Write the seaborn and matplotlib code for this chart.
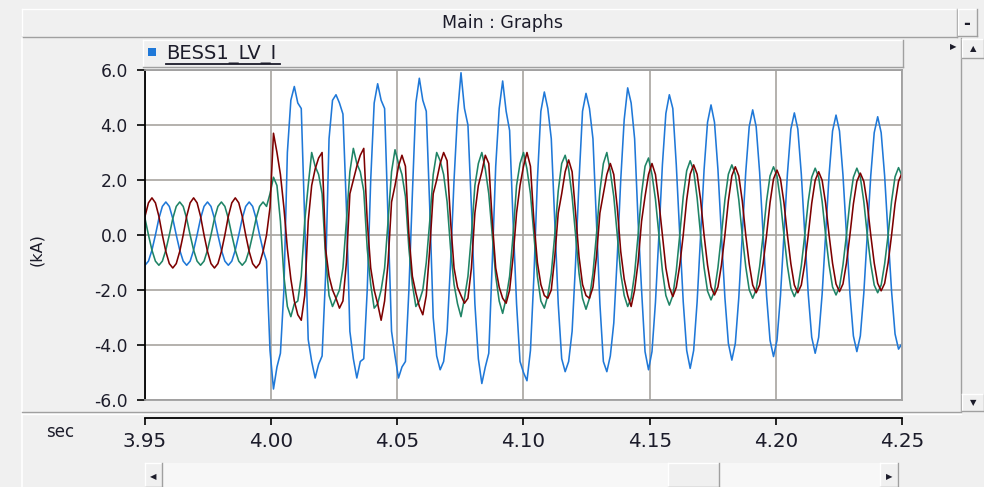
import numpy as np
import pandas as pd
import seaborn as sns
import matplotlib.pyplot as plt
from matplotlib.patches import Rectangle

# ---- data: BESS1_LV_I, three phase currents (kA)
# one sample every 30 electrical degrees, one row per cycle, 3.95 s .. 4.25 s
t_start, t_end = 3.95, 4.25

blue = [
    -1.10, -0.95, -0.55, 0.00, 0.60, 1.04, 1.20, 1.04, 0.60, 0.00, -0.55, -0.95,
    -1.10, -0.95, -0.55, 0.00, 0.60, 1.04, 1.20, 1.04, 0.60, 0.00, -0.55, -0.95,
    -1.10, -0.95, -0.55, 0.00, 0.60, 1.04, 1.20, 1.04, 0.60, 0.00, -0.55, -0.95,
    -4.20, -5.60, -4.80, -4.30, -2.00, 3.00, 4.90, 5.40, 4.80, 4.60, 0.50, -3.80,
    -4.60, -5.20, -4.70, -4.40, -1.50, 3.50, 4.90, 5.10, 4.80, 4.40, 1.00, -3.50,
    -4.50, -5.20, -4.60, -4.50, -2.00, 2.00, 4.80, 5.50, 4.90, 4.60, 0.50, -3.50,
    -4.40, -5.20, -4.80, -4.60, -2.00, 1.50, 4.80, 5.70, 4.90, 4.50, 1.00, -3.00,
    -4.40, -4.90, -4.60, -3.50, -1.00, 2.00, 4.40, 5.90, 4.60, 4.00, 1.00, -2.50,
    -4.50, -5.40, -4.80, -4.30, -1.00, 2.50, 4.60, 5.60, 4.50, 3.80, 0.50, -2.50,
    -4.60, -5.00, -5.30, -4.20, -1.50, 2.00, 4.50, 5.20, 4.60, 3.50, 0.50, -2.50,
    -4.50, -4.97, -4.60, -3.50, -1.00, 2.00, 4.50, 5.15, 4.60, 3.50, 0.50, -2.50,
    -4.60, -4.97, -4.40, -3.20, -0.80, 2.00, 4.20, 5.35, 4.80, 3.50, 0.50, -2.00,
    -4.24, -4.90, -4.24, -2.45, 0.00, 2.55, 4.42, 5.10, 4.60, 2.55, 0.00, -2.43,
    -4.20, -4.85, -4.20, -2.43, 0.00, 2.37, 4.10, 4.73, 4.10, 2.37, 0.00, -2.28,
    -3.94, -4.55, -3.94, -2.28, 0.00, 2.28, 3.94, 4.55, 3.94, 2.28, 0.00, -2.21,
    -3.83, -4.42, -3.83, -2.21, 0.00, 2.22, 3.85, 4.44, 3.85, 2.22, 0.00, -2.15,
    -3.72, -4.30, -3.72, -2.15, 0.00, 2.18, 3.78, 4.36, 3.78, 2.18, 0.00, -2.12,
    -3.67, -4.24, -3.67, -2.12, 0.00, 2.15, 3.72, 4.30, 3.72, 2.15, 0.00, -2.05,
    -3.60, -4.15, -3.95,
]

green = [
    0.60, 0.00, -0.55, -0.95, -1.10, -0.95, -0.55, 0.00, 0.60, 1.04, 1.20, 1.04,
    0.60, 0.00, -0.55, -0.95, -1.10, -0.95, -0.55, 0.00, 0.60, 1.04, 1.20, 1.04,
    0.60, 0.00, -0.55, -0.95, -1.10, -0.95, -0.55, 0.00, 0.60, 1.04, 1.20, 1.04,
    1.50, 2.10, 1.80, 0.50, -1.50, -2.60, -2.97, -2.50, -2.40, -1.50, 0.50, 1.80,
    3.00, 2.50, 2.20, 1.50, -0.80, -2.20, -2.60, -2.30, -2.00, -1.20, 0.50, 2.30,
    3.15, 2.60, 2.30, 1.60, -0.50, -1.80, -2.66, -2.50, -2.00, -1.20, 0.50, 2.30,
    3.10, 2.60, 2.20, 1.40, -0.50, -1.80, -2.60, -2.40, -2.00, -1.00, 0.50, 2.20,
    3.00, 2.70, 2.20, 1.20, -0.50, -1.80, -2.50, -2.97, -2.30, -1.50, 0.00, 1.80,
    2.60, 3.00, 2.40, 1.50, 0.00, -1.50, -2.40, -2.85, -2.30, -1.50, 0.00, 1.80,
    2.60, 3.00, 2.40, 1.50, 0.00, -1.50, -2.40, -2.66, -2.20, -1.40, 0.00, 1.60,
    2.60, 2.90, 2.40, 1.40, 0.00, -1.40, -2.30, -2.70, -2.30, -1.40, 0.00, 1.60,
    2.60, 3.00, 2.30, 1.40, 0.00, -1.40, -2.20, -2.60, -2.30, -1.40, 0.00, 1.50,
    2.50, 2.80, 2.20, 1.30, 0.00, -1.30, -2.20, -2.55, -2.20, -1.30, 0.00, 1.40,
    2.34, 2.70, 2.34, 1.35, 0.00, -1.18, -2.04, -2.36, -2.04, -1.18, 0.00, 1.28,
    2.21, 2.55, 2.21, 1.28, 0.00, -1.15, -1.99, -2.30, -1.99, -1.15, 0.00, 1.24,
    2.15, 2.48, 2.15, 1.24, 0.00, -1.12, -1.94, -2.24, -1.94, -1.12, 0.00, 1.22,
    2.10, 2.43, 2.10, 1.22, 0.00, -1.09, -1.89, -2.18, -1.89, -1.09, 0.00, 1.22,
    2.10, 2.43, 2.10, 1.22, 0.00, -1.05, -1.82, -2.10, -1.82, -1.05, 0.00, 1.23,
    2.12, 2.45, 2.15,
]

red = [
    0.68, 1.17, 1.35, 1.17, 0.68, 0.00, -0.60, -1.04, -1.20, -1.04, -0.60, 0.00,
    0.68, 1.17, 1.35, 1.17, 0.68, 0.00, -0.60, -1.04, -1.20, -1.04, -0.60, 0.00,
    0.68, 1.17, 1.35, 1.17, 0.68, 0.00, -0.60, -1.04, -1.20, -1.04, -0.60, 0.00,
    1.00, 3.70, 3.00, 2.20, 1.00, -0.50, -1.60, -2.40, -2.90, -3.10, -2.20, 0.50,
    1.80, 2.40, 2.80, 3.00, -0.50, -1.50, -2.00, -2.30, -2.66, -2.40, -1.00, 1.50,
    2.00, 2.50, 2.90, 3.15, 0.50, -1.20, -2.00, -2.50, -3.10, -2.40, -1.00, 1.20,
    1.80, 2.50, 2.90, 2.50, 0.00, -1.50, -2.10, -2.60, -2.90, -2.20, -0.50, 1.50,
    2.00, 2.60, 3.00, 2.70, 0.50, -1.20, -1.90, -2.20, -2.48, -2.30, -1.20, 0.80,
    1.80, 2.30, 2.90, 2.60, 0.50, -1.20, -1.90, -2.30, -2.48, -2.00, -0.80, 0.80,
    1.80, 2.50, 3.00, 2.50, 0.50, -1.00, -1.80, -2.20, -2.30, -2.00, -0.80, 0.80,
    1.50, 2.30, 2.73, 2.30, 0.80, -0.80, -1.80, -2.20, -2.30, -1.90, -0.80, 0.80,
    1.50, 2.20, 2.60, 2.20, 1.00, -0.60, -1.60, -2.20, -2.60, -2.00, -1.00, 0.50,
    1.40, 2.20, 2.60, 2.20, 1.20, 0.00, -1.20, -1.90, -2.24, -1.90, -1.10, 0.00,
    1.28, 2.21, 2.55, 2.21, 1.28, 0.00, -1.09, -1.89, -2.18, -1.89, -1.09, 0.00,
    1.24, 2.15, 2.48, 2.15, 1.24, 0.00, -1.05, -1.82, -2.10, -1.82, -1.05, 0.00,
    1.18, 2.04, 2.36, 2.04, 1.18, 0.00, -1.05, -1.82, -2.10, -1.82, -1.05, 0.00,
    1.15, 1.99, 2.30, 1.99, 1.15, 0.00, -1.03, -1.78, -2.06, -1.78, -1.03, 0.00,
    1.13, 1.95, 2.25, 1.95, 1.13, 0.00, -1.02, -1.76, -2.03, -1.76, -1.02, 0.00,
    1.13, 1.95, 2.25,
]

x_ticks = [3.95, 4.00, 4.05, 4.10, 4.15, 4.20, 4.25]
x_labels = ['3.95', '4.00', '4.05', '4.10', '4.15', '4.20', '4.25']
y_ticks = [6, 4, 2, 0, -2, -4, -6]
y_labels = ['6.0', '4.0', '2.0', '0.0', '-2.0', '-4.0', '-6.0']

colors = {'a': '#1f78d8', 'b': '#1f8466', 'c': '#7d0000'}

t = np.linspace(t_start, t_end, len(blue))
df = pd.DataFrame({'t': t, 'a': blue, 'b': green, 'c': red})
df = df.melt(id_vars='t', var_name='phase', value_name='kA')

W, H = 984, 487
BG = '#f0f0f0'
EDGE = '#a0a0a0'
TXT = '#1c1c2a'
NARROW = ['Liberation Sans Narrow', 'DejaVu Sans']

fig = plt.figure(figsize=(W / 100, H / 100), dpi=100, facecolor=BG)

# window chrome drawn in pixel coordinates
bg = fig.add_axes([0, 0, 1, 1], zorder=-1)
bg.set_xlim(0, W)
bg.set_ylim(H, 0)
bg.axis('off')


def box(x0, y0, x1, y1, face=BG, light='white', dark=EDGE, lw=1.0):
    bg.add_patch(Rectangle((x0, y0), x1 - x0, y1 - y0, facecolor=face, edgecolor='none'))
    bg.plot([x0, x1], [y0, y0], color=light, lw=lw)
    bg.plot([x0, x0], [y0, y1], color=light, lw=lw)
    bg.plot([x0, x1], [y1, y1], color=dark, lw=lw)
    bg.plot([x1, x1], [y0, y1], color=dark, lw=lw)


box(22, 9, 957, 37)
bg.text(503, 23, 'Main : Graphs', ha='center', va='center', fontsize=12.5,
        family=NARROW, color=TXT)
box(958, 9, 977, 36)
bg.text(967, 24, '-', ha='center', va='center', fontsize=12, fontweight='bold',
        color=TXT)
bg.plot([22, 22], [38, H], color='white', lw=1.2)

box(143, 40, 903, 67)
bg.add_patch(Rectangle((148, 48), 8, 8, facecolor=colors['a'], edgecolor='none'))
bg.text(166, 55, 'BESS1_LV_I', ha='left', va='center', fontsize=14,
        family=NARROW, color=TXT)
bg.plot([166, 280], [64, 64], color=TXT, lw=1.3)
bg.text(953, 47, '\u25b6', ha='center', va='center', fontsize=6, color=TXT)

# vertical scrollbar
bg.plot([961, 961], [38, 411], color=EDGE, lw=1.0)
box(962, 39, 984, 58)
bg.text(973, 49, '\u25b2', ha='center', va='center', fontsize=6, color=TXT)
box(962, 394, 984, 411)
bg.text(973, 403, '\u25bc', ha='center', va='center', fontsize=6, color=TXT)

bg.plot([22, 961], [412, 412], color=EDGE, lw=1.0)
bg.plot([22, 961], [413.5, 413.5], color='white', lw=1.0)

# horizontal scrollbar
bg.add_patch(Rectangle((145, 463), 755, 24, facecolor='#f7f7f7', edgecolor='none'))
box(145, 463, 162, 487)
bg.text(153, 477, '\u25c0', ha='center', va='center', fontsize=6, color=TXT)
box(668, 463, 719, 487)
box(880, 463, 898, 487)
bg.text(889, 477, '\u25b6', ha='center', va='center', fontsize=6, color=TXT)

bg.text(60, 432, 'sec', ha='center', va='center', fontsize=12, color=TXT)
bg.text(37, 250, '(kA)', ha='center', va='center', fontsize=11.5, rotation=90,
        color=TXT)

# plot area
ax = fig.add_axes([145 / W, 1 - 400 / H, (902 - 145) / W, (400 - 70) / H])
ax.set_facecolor('white')
sns.lineplot(data=df, x='t', y='kA', hue='phase', hue_order=['a', 'b', 'c'],
             palette=colors, estimator=None, sort=False, legend=False,
             lw=1.15, ax=ax)
ax.set_xlim(t_start, t_end)
ax.set_ylim(-6, 6)
ax.set_xticks(x_ticks)
ax.set_yticks(y_ticks)
ax.set_yticklabels(y_labels, fontsize=12.3, color=TXT)
ax.tick_params(axis='x', length=0, labelbottom=False)
ax.tick_params(axis='y', direction='out', length=6, width=1.2, color='black', pad=6.5)
ax.grid(True, color='#a8a4a0', lw=1.2)
ax.set_axisbelow(True)
ax.set_xlabel('')
ax.set_ylabel('')
for side in ['top', 'right', 'bottom']:
    ax.spines[side].set_color(EDGE)
    ax.spines[side].set_linewidth(1.3)
ax.spines['left'].set_color('black')
ax.spines['left'].set_linewidth(1.3)

# time ruler below the plot
axx = fig.add_axes([145 / W, 1 - 418 / H, (902 - 145) / W, 0.0001])
axx.patch.set_alpha(0)
axx.set_xlim(t_start, t_end)
axx.set_yticks([])
axx.set_xticks(x_ticks)
axx.set_xticklabels(x_labels, fontsize=14.3, color=TXT)
axx.tick_params(axis='x', direction='out', length=5, width=1.2, pad=5)
for side in ['top', 'left', 'right']:
    axx.spines[side].set_visible(False)
axx.spines['bottom'].set_linewidth(1.3)

fig.savefig('out.png', dpi=100, facecolor=BG)
